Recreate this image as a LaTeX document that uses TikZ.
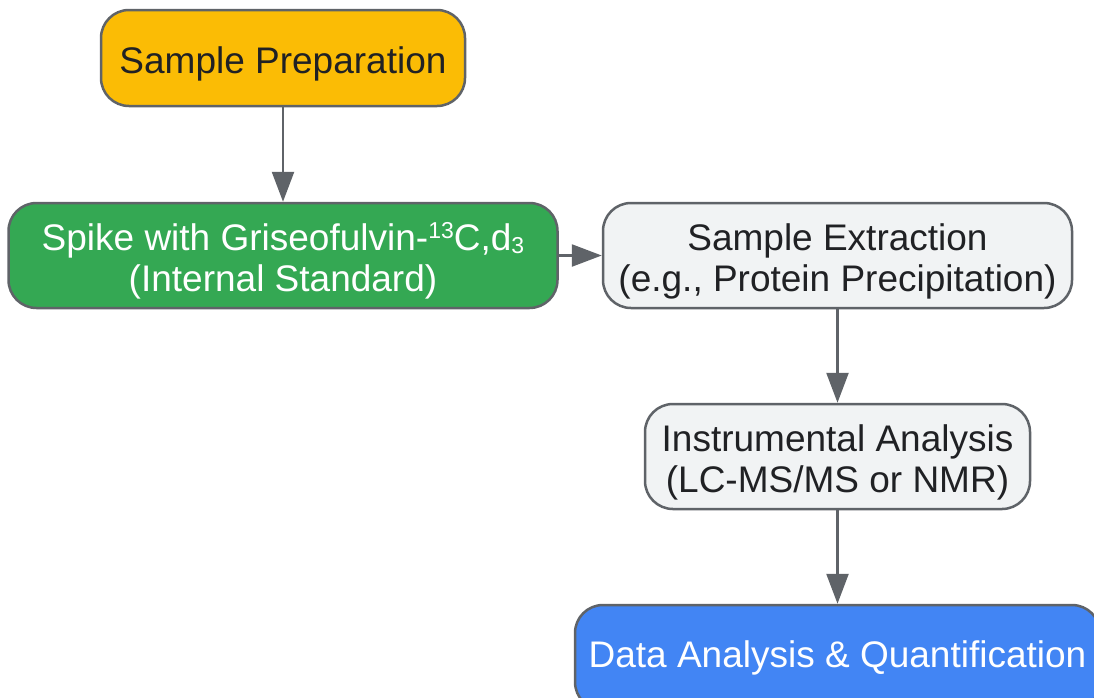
\documentclass[tikz,border=0pt]{standalone}
\usepackage{fontspec}
\setmainfont{Liberation Sans}
\usetikzlibrary{arrows.meta}
\definecolor{edgec}{HTML}{5F6368}
\definecolor{txtc}{HTML}{202124}
\definecolor{orangef}{HTML}{FBBC05}
\definecolor{greenf}{HTML}{34A853}
\definecolor{grayf}{HTML}{F1F3F4}
\definecolor{bluef}{HTML}{4285F4}
\newcommand{\supsm}[1]{\raisebox{12pt}{\fontsize{23}{23}\selectfont #1}}
\newcommand{\subsm}[1]{\raisebox{-3pt}{\fontsize{23}{23}\selectfont #1}}
\begin{document}
\begin{tikzpicture}[x=1pt,y=-1pt,
  box/.style={draw=edgec, line width=2.5pt, rounded corners=28pt, inner sep=0pt,
    align=center, font=\fontsize{37}{41}\selectfont, text=txtc},
  oneline/.style={text height=38pt},
  twoline/.style={text height=79pt},
  arr/.style={draw=edgec, line width=2.5pt, -{Triangle[length=30pt,width=22pt]}}]
\useasboundingbox (0,0) rectangle (1094,697);
\clip (0,0) rectangle (1094,697);
\node[box, oneline, fill=orangef, minimum width=364pt, minimum height=96pt] (prep) at (283,58) {Sample Preparation};
\node[box, twoline, fill=greenf, text=white, minimum width=549pt, minimum height=105pt] (spike) at (283,255.5)
  {Spike with Griseofulvin-\supsm{13}C,d\subsm{3}\\(Internal Standard)};
\node[box, twoline, fill=grayf, minimum width=469pt, minimum height=105pt] (extr) at (837.5,255.5)
  {Sample Extraction\\(e.g., Protein Precipitation)};
\node[box, twoline, fill=grayf, minimum width=385pt, minimum height=105pt] (instr) at (837.5,456.5)
  {Instrumental Analysis\\(LC-MS/MS or NMR)};
\node[box, text height=28pt, fill=bluef, text=white, minimum width=525pt, minimum height=105pt] (data) at (837.5,657.5)
  {Data Analysis \& Quantification};
\draw[arr] (prep) -- (spike);
\draw[arr] (spike) -- (extr);
\draw[arr] (extr) -- (instr);
\draw[arr] (instr) -- (data);
\end{tikzpicture}
\end{document}
